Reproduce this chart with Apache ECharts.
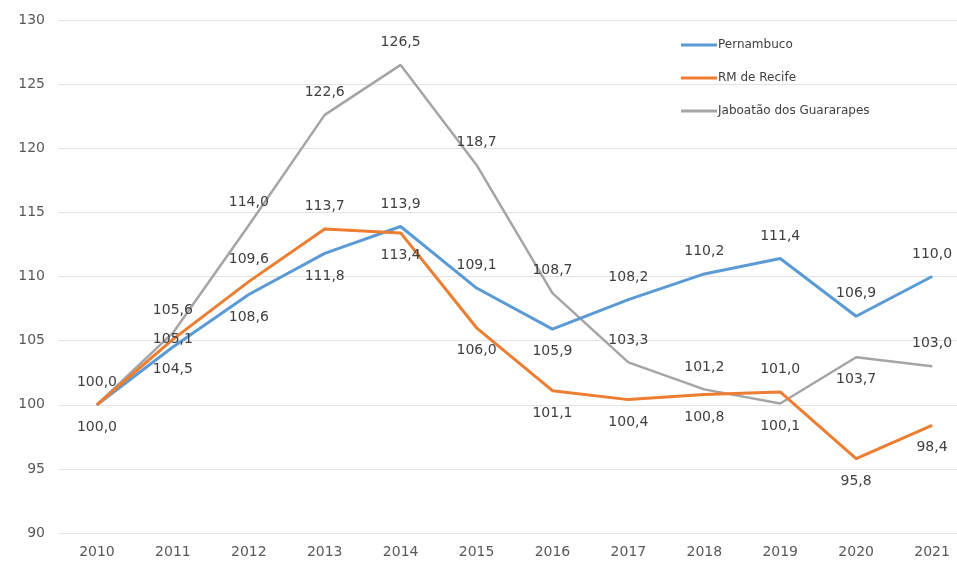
<!DOCTYPE html>
<html>
<head>
<meta charset="utf-8">
<script src="https://cdn.jsdelivr.net/npm/echarts@6/dist/echarts.min.js"></script>
<style>
  html, body { margin: 0; padding: 0; background: #fff; overflow: hidden; }
  /* a área do gráfico continua além da borda direita, como na figura original */
  #chart { width: 970px; height: 564px; }
</style>
</head>
<body>
<div id="chart"></div>
<script>
// dados
const years = ['2010', '2011', '2012', '2013', '2014', '2015', '2016', '2017', '2018', '2019', '2020', '2021'];
const pernambuco = [100.0, 104.5, 108.6, 111.8, 113.9, 109.1, 105.9, 108.2, 110.2, 111.4, 106.9, 110.0];
const rmRecife = [100.0, 105.1, 109.6, 113.7, 113.4, 106.0, 101.1, 100.4, 100.8, 101.0, 95.8, 98.4];
const jaboatao = [100.0, 105.6, 114.0, 122.6, 126.5, 118.7, 108.7, 103.3, 101.2, 100.1, 103.7, 103.0];

// posição dos rótulos (t = acima, b = abaixo, c = centro, '' = sem rótulo)
const posPernambuco = ['b', 'b', 'b', 'b', 't', 't', 'b', 't', 't', 't', 't', 't'];
const posRecife = ['', 'c', 't', 't', 'b', 'b', 'b', 'b', 'b', 't', 'b', 'b'];
const posJaboatao = ['t', 't', 't', 't', 't', 't', 't', 't', 't', 'b', 'b', 't'];

const FONT = 'DejaVu Sans';
const fmt = v => v.toFixed(1).replace('.', ',');

const buildData = (values, pos) => values.map((v, i) => {
  const p = pos[i];
  if (!p) return { value: v, label: { show: false } };
  const position = p === 't' ? 'top' : p === 'b' ? 'bottom' : 'inside';
  return { value: v, label: { show: true, position: position } };
});

const makeSeries = (name, values, pos, color, width) => ({
  name: name,
  type: 'line',
  data: buildData(values, pos),
  symbol: 'circle',
  symbolSize: 1,
  showSymbol: true,
  lineStyle: { color: color, width: width },
  itemStyle: { color: color },
  label: {
    show: true,
    distance: 15,
    color: '#404040',
    fontFamily: FONT,
    fontSize: 14,
    formatter: p => fmt(p.value)
  },
  emphasis: { disabled: true },
  z: name === 'Jaboatão dos Guararapes' ? 1 : 2
});

const chart = echarts.init(document.getElementById('chart'));

chart.setOption({
  animation: false,
  backgroundColor: '#fff',
  textStyle: { fontFamily: FONT },
  grid: { left: 59, top: 20, right: 0, bottom: 31, containLabel: false },
  legend: {
    orient: 'vertical',
    left: 676,
    top: 34,
    icon: 'rect',
    itemWidth: 36,
    itemHeight: 3,
    itemGap: 21,
    textStyle: { color: '#404040', fontSize: 12, fontFamily: FONT, padding: [0, 0, 0, -4] },
    data: ['Pernambuco', 'RM de Recife', 'Jaboatão dos Guararapes']
  },
  xAxis: {
    type: 'category',
    data: years,
    boundaryGap: true,
    axisLine: { show: false },
    axisTick: { show: false },
    axisLabel: { color: '#595959', fontSize: 14, fontFamily: FONT, margin: 12 }
  },
  yAxis: {
    type: 'value',
    min: 90,
    max: 130,
    interval: 5,
    axisLine: { show: false },
    axisTick: { show: false },
    axisLabel: { color: '#595959', fontSize: 14, fontFamily: FONT, margin: 14 },
    splitLine: { lineStyle: { color: '#e3e3e3', width: 1 } }
  },
  series: [
    makeSeries('Pernambuco', pernambuco, posPernambuco, '#5b9bd5', 3),
    makeSeries('RM de Recife', rmRecife, posRecife, '#ed7d31', 3),
    makeSeries('Jaboatão dos Guararapes', jaboatao, posJaboatao, '#a5a5a5', 2.5)
  ]
});
</script>
</body>
</html>
